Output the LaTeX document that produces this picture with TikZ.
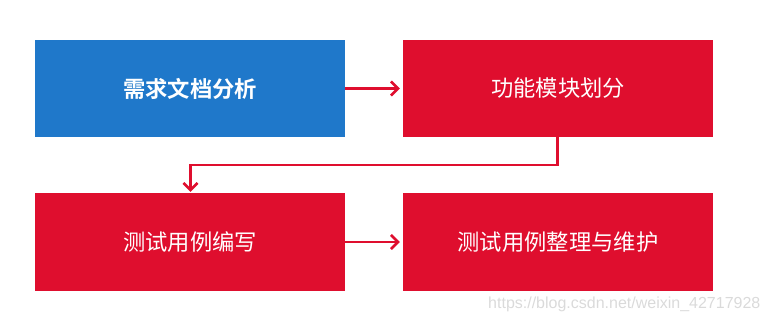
\documentclass[tikz,border=0pt]{standalone}
\usepackage{fontspec}
\setmainfont{Liberation Sans}
\newfontfamily\cjk{Noto Sans CJK SC}
\newfontfamily\cjkbold{Noto Sans CJK SC Bold}
\usetikzlibrary{arrows.meta}
\definecolor{boxblue}{HTML}{1F78CA}
\definecolor{boxred}{HTML}{DF0E2E}
\definecolor{wmgray}{HTML}{DADADA}
\tikzset{
  box/.style={draw=none, minimum width=310pt, minimum height=97pt, inner sep=0pt, text=white, font=\cjk\fontsize{22.3}{24}\selectfont},
  bluebox/.style={box, fill=boxblue, font=\cjkbold\fontsize{22.3}{24}\selectfont},
  redbox/.style={box, fill=boxred},
  link/.style={draw=boxred, line width=2.6pt, -{Straight Barb[length=7pt,width=14pt,line width=2.6pt]}}
}
\begin{document}
\begin{tikzpicture}[x=1pt,y=-1pt]
\useasboundingbox (0,0) rectangle (770,325);
\node[bluebox] (a) at (190,88.5) {需求文档分析};
\node[redbox] (b) at (558,88.5) {功能模块划分};
\node[redbox, minimum height=98pt] (c) at (190,242) {测试用例编写};
\node[redbox, minimum height=98pt] (d) at (558,242) {测试用例整理与维护};
\coordinate (bend1) at (557.5,165);
\coordinate (bend2) at (190.5,165);
\draw[link] (a.east) -- ([xshift=-3pt]b.west);
\draw[link, shorten >=1pt] (b.south -| bend1) -- (bend1) -- (bend2) -- (bend2 |- c.north);
\draw[link] (c.east) -- ([xshift=-3pt]d.west);
\node[anchor=west, text=wmgray, font=\fontsize{16}{18}\selectfont, inner sep=0pt] (wm) at (488,304) {https://blog.csdn.net/weixin\_42717928};
\end{tikzpicture}
\end{document}
